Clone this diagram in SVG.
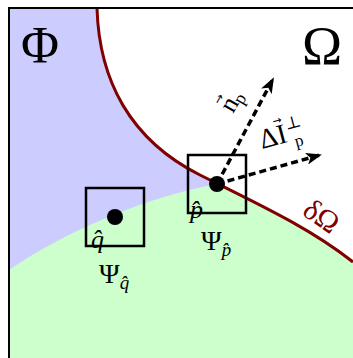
<svg xmlns="http://www.w3.org/2000/svg" width="353" height="358" viewBox="0 0 353 358">
<style>
.m{font-family:"Liberation Serif","DejaVu Serif",serif;fill:#000}
.v{font-family:"DejaVu Sans",sans-serif}
.i{font-style:italic}
.box{fill:none;stroke:#000;stroke-width:2.5}
.dot{fill:#000}
.arr{fill:none;stroke:#000;stroke-width:3.5;stroke-dasharray:7 4}
</style>
<defs>
<marker id="ah" viewBox="0 0 16 12" refX="14" refY="6" markerWidth="16" markerHeight="12" orient="auto" markerUnits="userSpaceOnUse">
<path d="M0,0 L16,6 L0,12 L4,6 Z" fill="#000"/>
</marker>
</defs>
<rect x="0" y="0" width="353" height="358" fill="#fff"/>
<g id="regions">
<path id="phi-region" d="M9,8 L97,8 C99,80 130,140 200,175 C260,205 310,228 353,262 L353,358 L9,358 Z" fill="#ccccff"/>
<path id="green-region" d="M9,270 C60,235 140,198 217,184 C260,205 310,228 353,262 L353,358 L9,358 Z" fill="#ccffcc"/>
<path id="boundary" d="M97,8 C99,80 130,140 200,175 C260,205 310,228 353,262" fill="none" stroke="#800000" stroke-width="3"/>
<line x1="9" y1="7" x2="9" y2="358" stroke="#000" stroke-width="2"/>
<line x1="8" y1="8" x2="353" y2="8" stroke="#000" stroke-width="2"/>
</g>
<g id="connectors">
<line class="arr" x1="217" y1="184" x2="273" y2="79" marker-end="url(#ah)"/>
<line class="arr" x1="217" y1="184" x2="320" y2="155" marker-end="url(#ah)"/>
</g>
<g id="node-q">
<rect class="box" x="86" y="188" width="58" height="58"/>
<circle class="dot" cx="115" cy="217" r="8"/>
<text class="m i" x="91" y="248" font-size="26">q&#770;</text>
<text class="m" x="99" y="283" font-size="28">Ψ<tspan class="i" font-size="19" dy="6">q&#770;</tspan></text>
</g>
<g id="node-p">
<rect class="box" x="188" y="155" width="58" height="58"/>
<circle class="dot" cx="217" cy="184" r="8"/>
<text class="m i" x="190" y="218" font-size="26">p&#770;</text>
<text class="m" x="201" y="250" font-size="28">Ψ<tspan class="i" font-size="19" dy="6">p&#770;</tspan></text>
</g>
<g id="labels">
<text class="m" x="21" y="63" font-size="52">Φ</text>
<text class="m" x="302" y="64" font-size="54">Ω</text>
<text class="m" font-size="30" transform="translate(301,214) rotate(35)" style="fill:#800000">δΩ</text>
<text class="m" font-size="26" transform="translate(233,114) rotate(-60)">n<tspan class="v" font-size="12" dx="-12" dy="-16">→</tspan><tspan font-size="18" dx="1" dy="20">p</tspan></text>
<text class="m" font-size="28" transform="translate(262,149) rotate(-15)">ΔI<tspan class="v" font-size="11" dx="-10" dy="-20">→</tspan><tspan font-size="17" dx="2" dy="8">⊥</tspan><tspan font-size="17" dx="-11" dy="19">p</tspan></text>
</g>
</svg>
